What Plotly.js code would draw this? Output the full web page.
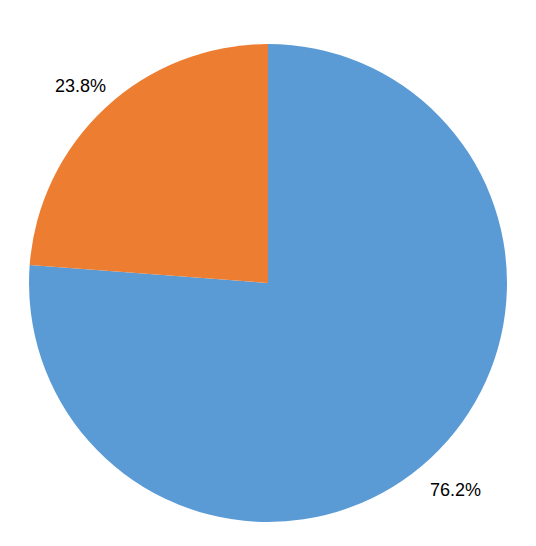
<!DOCTYPE html>
<html>
<head>
<meta charset="utf-8">
<script src="https://cdn.plot.ly/plotly-3.0.1.min.js"></script>
<style>html,body{margin:0;padding:0;background:#fff;}#chart{width:536px;height:546px;}</style>
</head>
<body>
<div id="chart"></div>
<script>
const labels = ["Series A", "Series B"];
const values = [76.2, 23.8];
const colors = ["#5B9BD5", "#ED7D31"];

const W = 536, H = 546;
const trace = {
  type: "pie",
  labels: labels,
  values: values,
  sort: false,
  direction: "clockwise",
  rotation: 0,
  marker: {colors: colors, line: {width: 0}},
  textinfo: "none",
  hoverinfo: "none",
  domain: {x: [28/W, 508/W], y: [(H-522)/H, (H-44)/H]},
  showlegend: false
};

// Place percentage labels outside each slice at the slice mid-angle
const total = values.reduce((a,b)=>a+b,0);
const cx = (28+508)/2, cy = (44+522)/2, R = 240;
const annotations = [];
let acc = 0;
values.forEach((v,i)=>{
  const mid = (acc + v/2)/total * 2*Math.PI; // clockwise from 12 o'clock
  acc += v;
  const rl = R + 36;
  const px = cx + rl*Math.sin(mid);
  const py = cy - rl*Math.cos(mid);
  annotations.push({
    x: px/W, y: 1 - py/H, xref: "paper", yref: "paper",
    text: (v/total*100).toFixed(1) + "%",
    showarrow: false,
    font: {family: "Liberation Sans, Arial, sans-serif", size: 18, color: "#000"},
    xanchor: "center", yanchor: "middle", yshift: -5
  });
});

Plotly.newPlot("chart", [trace], {
  width: W, height: H,
  margin: {l:0, r:0, t:0, b:0},
  paper_bgcolor: "#fff",
  annotations: annotations
}, {displayModeBar: false, staticPlot: true});
</script>
</body>
</html>
